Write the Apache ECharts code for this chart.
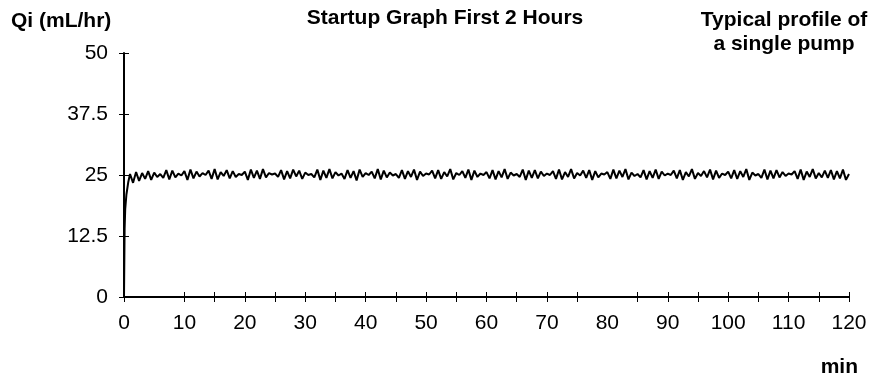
<!DOCTYPE html>
<html><head><meta charset="utf-8">
<script src="https://cdn.jsdelivr.net/npm/echarts@6/dist/echarts.min.js"></script>
<style>html,body{margin:0;padding:0;background:#fff}#c{width:874px;height:381px}</style>
</head><body><div id="c"></div>
<script>
const yTicks = [0, 12.5, 25, 37.5, 50];
const xTicksBelow = [0,10,15,20,25,30,35,40,45,50,55,60,65,70,75,85,90,95,100,105,110,115,120];
const xTicksAbove = [10,15,20,25,30,35,40,45,50,55,60,65,70,75,85,90,95,100,105,110,115,120];
const startTimes = [0, 0.1, 0.2, 0.4, 0.7, 1.0];
const startValues = [0, 14, 18, 21, 23.5, 25.2];
const stepStart = 1.5, stepSize = 0.5; // sampling of the periodic part (minutes)
const qiValues = [
 23.4,25.6,23.8,25.4,24.2,25.8,24.0,25.5,24.6,25.2,
 24.4,26.0,24.1,25.9,24.5,25.3,24.9,25.8,24.0,26.1,
 24.3,25.7,24.7,25.4,25.0,25.9,24.2,26.2,24.1,25.6,
 24.8,26.0,24.3,25.8,24.6,25.2,25.0,25.7,24.0,26.1,
 24.4,25.9,24.2,26.2,24.5,25.4,25.1,25.3,24.6,26.0,
 24.1,25.8,24.3,26.1,24.7,25.9,24.2,25.5,25.0,25.2,
 24.5,26.1,24.0,25.9,24.4,26.2,24.3,25.6,24.9,25.3,
 24.2,26.0,24.4,25.8,23.9,26.1,24.6,25.4,25.0,25.7,
 24.3,26.2,24.1,25.9,24.5,25.5,24.9,25.2,24.4,26.0,
 24.2,25.8,24.6,26.1,24.0,25.7,24.8,25.3,25.1,25.9,
 24.3,26.0,24.2,25.6,24.7,26.2,24.1,25.4,25.0,25.8,
 24.4,26.1,24.0,25.9,24.6,25.3,25.0,25.6,24.3,26.0,
 24.1,25.8,24.5,26.2,24.2,25.5,24.9,25.2,24.6,26.1,
 24.0,25.9,24.4,26.0,24.3,25.7,24.8,25.3,25.0,25.8,
 24.2,26.1,24.1,25.6,24.6,26.2,24.3,25.4,24.9,25.9,
 24.4,26.0,24.0,25.8,24.5,25.3,25.1,25.6,24.2,26.1,
 24.3,25.9,24.6,26.2,24.1,25.5,24.8,25.2,24.5,26.0,
 24.1,25.8,24.4,26.1,24.2,25.7,24.9,25.3,25.0,25.9,
 24.3,26.0,24.0,25.6,24.7,26.2,24.2,25.4,24.8,25.8,
 24.5,26.1,24.1,25.9,24.4,25.3,25.0,25.7,24.3,26.0,
 24.2,25.8,24.6,26.2,24.0,25.5,24.9,25.2,24.4,26.1,
 24.1,25.9,24.3,26.0,24.5,25.6,24.8,25.3,25.1,25.8,
 24.2,26.1,24.0,25.7,24.6,26.2,24.3,25.4,24.5,25.9,
 24.4,26.0,24.1,25.8,24.3,26.1,24.0,25.2
];
const titleText = 'Startup Graph First 2 Hours';
const yName = 'Qi (mL/hr)';
const xName = 'min';
const noteLines = ['Typical profile of', 'a single pump'];

const data = startTimes.map((t, i) => [t, startValues[i]]);
qiValues.forEach((v, i) => data.push([stepStart + i * stepSize, v]));

const FONT = '"Liberation Sans", Arial, sans-serif';
const chart = echarts.init(document.getElementById('c'), null, {renderer: 'canvas'});
const lbl = {color: '#000', fontFamily: FONT, fontSize: 21};
const head = 'bold 21px ' + FONT;
chart.setOption({
  animation: false,
  backgroundColor: '#fff',
  grid: {left: 124, right: 25, top: 53, bottom: 84, containLabel: false},
  xAxis: [{
    type: 'value', min: 0, max: 120, interval: 10, position: 'bottom',
    axisLine: {show: true, lineStyle: {color: '#000', width: 2}},
    axisTick: {show: true, inside: false, length: 5, lineStyle: {color: '#000', width: 1}, customValues: xTicksBelow},
    axisLabel: Object.assign({margin: 16}, lbl),
    splitLine: {show: false}
  }, {
    type: 'value', min: 0, max: 120, interval: 10, position: 'bottom',
    axisLine: {show: false},
    axisTick: {show: true, inside: true, length: 5, lineStyle: {color: '#000', width: 1}, customValues: xTicksAbove},
    axisLabel: {show: false},
    splitLine: {show: false}
  }],
  yAxis: [{
    type: 'value', min: 0, max: 50, interval: 12.5, position: 'left',
    axisLine: {show: true, lineStyle: {color: '#000', width: 2}},
    axisTick: {show: true, inside: false, length: 5, lineStyle: {color: '#000', width: 1}, customValues: yTicks},
    axisLabel: Object.assign({margin: 16}, lbl),
    splitLine: {show: false}
  }, {
    type: 'value', min: 0, max: 50, interval: 12.5, position: 'left',
    axisLine: {show: false},
    axisTick: {show: true, inside: true, length: 5, lineStyle: {color: '#000', width: 1}, customValues: yTicks.slice(1)},
    axisLabel: {show: false},
    splitLine: {show: false}
  }],
  series: [{
    type: 'line', data: data, showSymbol: false, symbol: 'none',
    lineStyle: {color: '#000', width: 2}, z: 3
  }],
  graphic: [
    {type: 'text', x: 11, y: 21, style: {text: yName, fill: '#000', font: head, verticalAlign: 'middle'}},
    {type: 'text', x: 445, y: 18, style: {text: titleText, fill: '#000', font: head, align: 'center', verticalAlign: 'middle'}},
    {type: 'text', x: 784, y: 20.5, style: {text: noteLines[0], fill: '#000', font: head, align: 'center', verticalAlign: 'middle'}},
    {type: 'text', x: 784, y: 44.5, style: {text: noteLines[1], fill: '#000', font: head, align: 'center', verticalAlign: 'middle'}},
    {type: 'text', x: 858, y: 367, style: {text: xName, fill: '#000', font: head, align: 'right', verticalAlign: 'middle'}}
  ]
});
</script></body></html>
